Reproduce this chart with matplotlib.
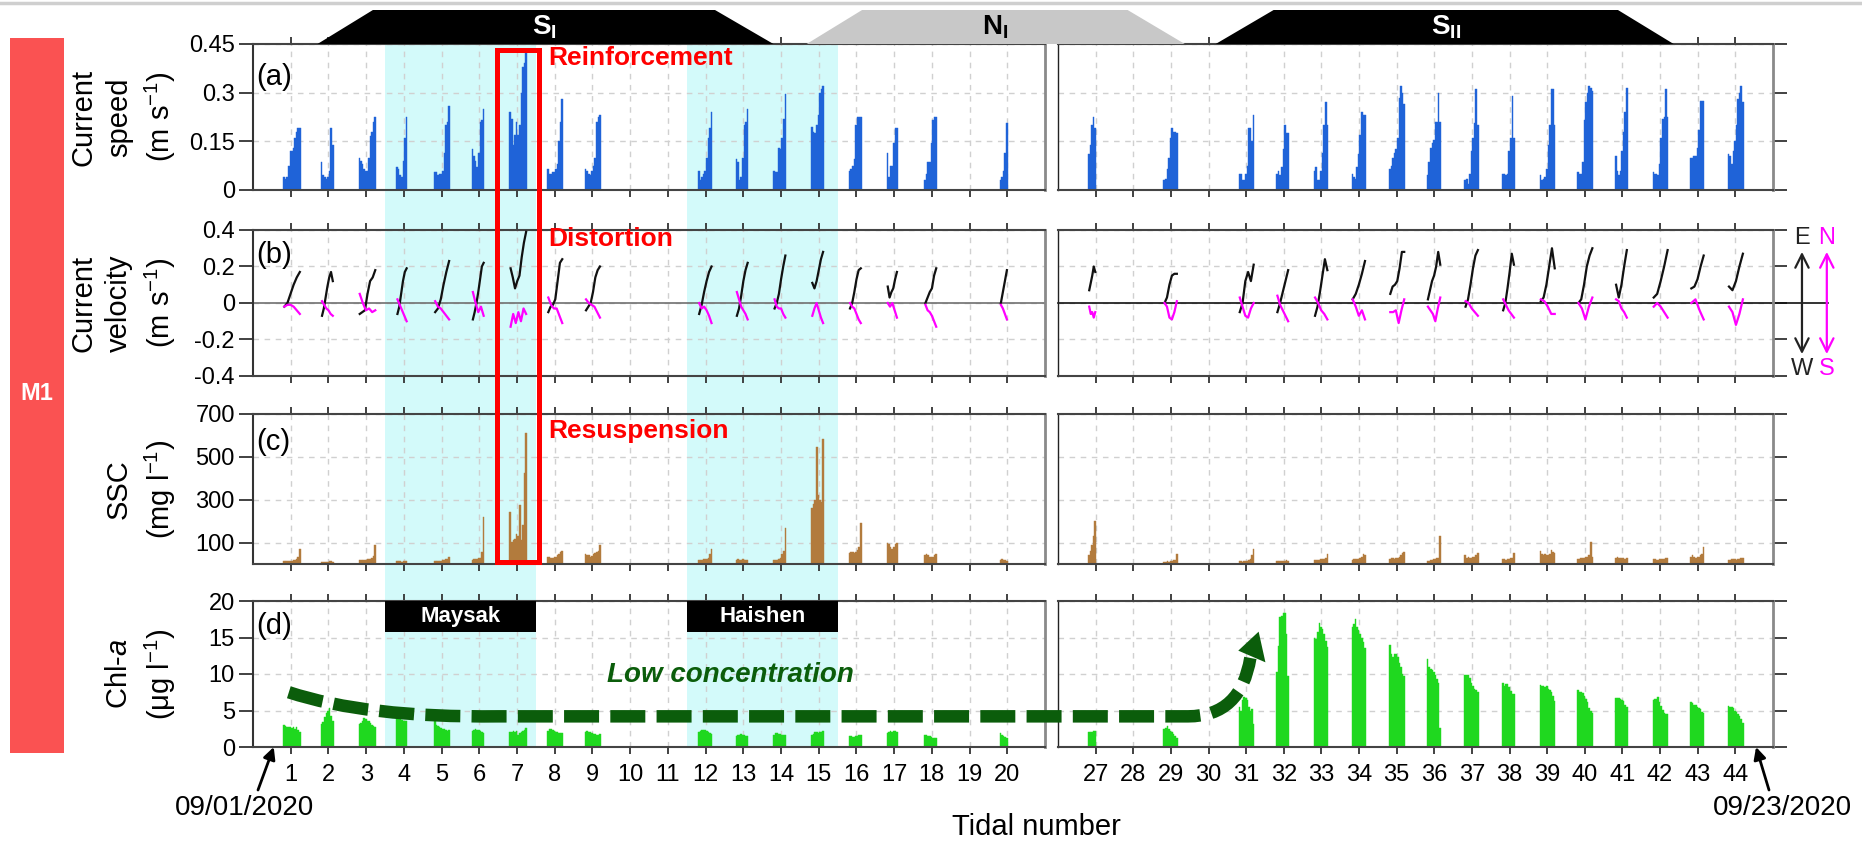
import numpy as np
import matplotlib.pyplot as plt
from matplotlib.patches import Rectangle, Polygon, PathPatch
from matplotlib.path import Path
from matplotlib.lines import Line2D
from matplotlib.transforms import blended_transform_factory

plt.rcParams['font.family'] = ['Liberation Sans', 'DejaVu Sans']
plt.rcParams['mathtext.fontset'] = 'custom'
plt.rcParams['mathtext.rm'] = 'Liberation Sans'
plt.rcParams['mathtext.it'] = 'Liberation Sans:italic'
plt.rcParams['mathtext.bf'] = 'Liberation Sans:bold'

# tidal cycles with records, left and right block
left_tides = [1, 2, 3, 4, 5, 6, 7, 8, 9, 12, 13, 14, 15, 16, 17, 18, 20]
right_tides = [27, 29, 31, 32, 33, 34, 35, 36, 37, 38, 39, 40, 41, 42, 43, 44]

# current speed (m/s), one bar per record
speed = {
    1: [0.04, 0.035, 0.04, 0.075, 0.12, 0.12, 0.13, 0.16, 0.18, 0.19, 0.19],
    2: [0.085, 0.045, 0.04, 0.035, 0.04, 0.06, 0.19, 0.14],
    3: [0.1, 0.09, 0.08, 0.065, 0.06, 0.06, 0.1, 0.165, 0.18, 0.21, 0.225],
    4: [0.07, 0.065, 0.045, 0.04, 0.09, 0.16, 0.225],
    5: [0.055, 0.055, 0.045, 0.05, 0.05, 0.06, 0.115, 0.2, 0.21, 0.26],
    6: [0.125, 0.105, 0.09, 0.07, 0.115, 0.21, 0.215, 0.25],
    7: [0.24, 0.22, 0.14, 0.17, 0.21, 0.17, 0.2, 0.3, 0.38, 0.39, 0.43],
    8: [0.065, 0.05, 0.05, 0.055, 0.055, 0.065, 0.08, 0.15, 0.21, 0.28],
    9: [0.065, 0.06, 0.05, 0.045, 0.06, 0.075, 0.1, 0.21, 0.225, 0.23],
    12: [0.06, 0.03, 0.04, 0.05, 0.06, 0.1, 0.16, 0.19, 0.24],
    13: [0.095, 0.085, 0.03, 0.04, 0.1, 0.2, 0.21, 0.25],
    14: [0.06, 0.055, 0.055, 0.13, 0.125, 0.16, 0.22, 0.295],
    15: [0.195, 0.18, 0.175, 0.2, 0.23, 0.3, 0.31, 0.32],
    16: [0.06, 0.065, 0.075, 0.095, 0.2, 0.225, 0.225, 0.225],
    17: [0.115, 0.04, 0.075, 0.075, 0.145, 0.19, 0.19],
    18: [0.03, 0.05, 0.085, 0.085, 0.145, 0.215, 0.225, 0.225],
    20: [0.03, 0.04, 0.06, 0.115, 0.205],
    27: [0.11, 0.14, 0.2, 0.225, 0.19],
    29: [0.03, 0.035, 0.065, 0.1, 0.16, 0.19, 0.18, 0.18, 0.175],
    31: [0.05, 0.05, 0.03, 0.03, 0.05, 0.075, 0.19, 0.19, 0.15, 0.23],
    32: [0.05, 0.06, 0.045, 0.07, 0.125, 0.2, 0.175, 0.175],
    33: [0.06, 0.07, 0.03, 0.03, 0.06, 0.115, 0.2, 0.27, 0.2],
    34: [0.05, 0.04, 0.035, 0.07, 0.11, 0.17, 0.24, 0.23, 0.23],
    35: [0.065, 0.075, 0.1, 0.115, 0.125, 0.16, 0.285, 0.32, 0.3, 0.265],
    36: [0.045, 0.085, 0.13, 0.145, 0.155, 0.21, 0.21, 0.3, 0.21],
    37: [0.03, 0.035, 0.02, 0.05, 0.12, 0.16, 0.205, 0.31, 0.2],
    38: [0.05, 0.05, 0.045, 0.05, 0.12, 0.16, 0.29, 0.16],
    39: [0.045, 0.03, 0.035, 0.04, 0.065, 0.14, 0.2, 0.31, 0.31, 0.2],
    40: [0.055, 0.05, 0.05, 0.085, 0.215, 0.27, 0.3, 0.32, 0.315, 0.305],
    41: [0.105, 0.06, 0.045, 0.06, 0.12, 0.18, 0.24, 0.315],
    42: [0.055, 0.05, 0.05, 0.045, 0.08, 0.16, 0.22, 0.225, 0.31, 0.225],
    43: [0.1, 0.1, 0.105, 0.105, 0.13, 0.185, 0.275, 0.275, 0.275],
    44: [0.11, 0.105, 0.08, 0.12, 0.15, 0.2, 0.28, 0.3, 0.32, 0.27],
}

# east (u) and north (v) velocity components (m/s)
vel_u = {
    1: [-0.02, 0.0, 0.05, 0.10, 0.14, 0.17],
    2: [-0.07, -0.03, 0.03, 0.09, 0.14, 0.17, 0.12],
    3: [-0.06, -0.05, -0.04, 0.05, 0.12, 0.14, 0.18],
    4: [-0.06, -0.02, 0.05, 0.12, 0.17, 0.19],
    5: [-0.05, -0.03, 0.02, 0.10, 0.17, 0.23],
    6: [-0.09, -0.05, 0.0, 0.06, 0.13, 0.20, 0.22],
    7: [0.19, 0.14, 0.08, 0.12, 0.15, 0.25, 0.33, 0.39],
    8: [-0.05, -0.02, -0.01, 0.02, 0.12, 0.22, 0.24],
    9: [-0.04, -0.02, 0.0, 0.06, 0.14, 0.18, 0.20],
    12: [-0.06, -0.01, 0.06, 0.12, 0.17, 0.20],
    13: [-0.07, -0.03, 0.04, 0.12, 0.18, 0.22],
    14: [-0.03, 0.0, 0.05, 0.13, 0.20, 0.26],
    15: [0.11, 0.08, 0.12, 0.18, 0.24, 0.28],
    16: [-0.03, 0.0, 0.06, 0.13, 0.18, 0.19],
    17: [0.09, 0.03, 0.06, 0.08, 0.13, 0.17],
    18: [0.0, 0.03, 0.06, 0.08, 0.15, 0.19],
    20: [0.0, 0.06, 0.12, 0.18],
    27: [0.07, 0.11, 0.15, 0.20, 0.17],
    29: [0.0, 0.03, 0.10, 0.15, 0.16, 0.16],
    31: [-0.05, 0.0, 0.12, 0.17, 0.12, 0.21],
    32: [-0.05, 0.0, 0.06, 0.12, 0.18],
    33: [-0.07, -0.02, 0.06, 0.15, 0.24, 0.18],
    34: [0.02, 0.05, 0.10, 0.16, 0.23],
    35: [0.05, 0.09, 0.10, 0.12, 0.19, 0.28, 0.28],
    36: [0.02, 0.07, 0.12, 0.15, 0.20, 0.28, 0.21],
    37: [-0.02, 0.02, 0.10, 0.19, 0.26, 0.29],
    38: [-0.04, 0.0, 0.08, 0.17, 0.27, 0.21],
    39: [0.01, 0.03, 0.10, 0.20, 0.30, 0.19],
    40: [0.0, 0.02, 0.10, 0.20, 0.26, 0.30],
    41: [0.10, 0.03, 0.10, 0.20, 0.29],
    42: [0.03, 0.05, 0.12, 0.20, 0.29],
    43: [0.08, 0.09, 0.13, 0.20, 0.26],
    44: [0.09, 0.07, 0.12, 0.20, 0.27],
}
vel_v = {
    1: [-0.02, -0.01, -0.01, -0.02, -0.04, -0.06],
    2: [0.01, -0.01, -0.03, -0.04, -0.06, -0.07],
    3: [0.05, 0.0, -0.04, -0.03, -0.05, -0.04],
    4: [0.02, -0.01, -0.04, -0.07, -0.10],
    5: [0.01, -0.02, -0.03, -0.05, -0.07, -0.09],
    6: [0.06, 0.0, -0.05, -0.02, -0.07],
    7: [-0.13, -0.06, -0.11, -0.05, -0.10, -0.03, -0.06],
    8: [0.03, -0.01, -0.03, -0.03, -0.07, -0.11],
    9: [0.02, 0.0, -0.01, -0.02, -0.05, -0.08],
    12: [0.0, -0.03, -0.02, -0.04, -0.07, -0.11],
    13: [0.06, 0.02, -0.02, -0.04, -0.06, -0.09],
    14: [0.02, -0.02, -0.03, -0.03, -0.06, -0.08],
    15: [-0.07, -0.03, 0.0, -0.04, -0.08, -0.11],
    16: [0.0, -0.02, -0.03, -0.06, -0.09, -0.11],
    17: [0.0, -0.02, 0.0, -0.04, -0.08],
    18: [-0.01, -0.04, -0.05, -0.07, -0.10, -0.13],
    20: [-0.01, -0.03, -0.06, -0.09],
    27: [-0.02, -0.06, -0.05, -0.08, -0.05],
    29: [0.0, -0.02, -0.08, -0.09, -0.05, 0.01],
    31: [0.03, -0.02, -0.07, -0.08, -0.03, 0.0],
    32: [0.04, -0.01, -0.04, -0.07, -0.10],
    33: [0.03, 0.0, -0.04, -0.06, -0.09],
    34: [0.02, -0.02, -0.07, -0.04, -0.09],
    35: [-0.05, -0.05, -0.04, -0.11, -0.04, 0.02],
    36: [-0.02, -0.04, -0.06, -0.10, -0.03, 0.03],
    37: [0.01, 0.0, -0.03, -0.05, -0.07],
    38: [0.02, -0.01, -0.04, -0.06, -0.08],
    39: [0.02, 0.01, -0.02, -0.06, -0.06],
    40: [0.0, -0.03, -0.09, -0.02, 0.03],
    41: [0.02, 0.01, -0.03, -0.05, -0.08],
    42: [-0.02, 0.0, -0.02, -0.05, -0.08],
    43: [0.0, 0.02, -0.04, -0.09],
    44: [-0.02, -0.05, -0.12, -0.06, 0.02],
}

# suspended sediment concentration (mg/l)
ssc = {
    1: [15, 16, 14, 15, 14, 16, 18, 20, 25, 35, 72],
    2: [10, 10, 10, 9, 10, 12, 12, 11],
    3: [18, 18, 17, 20, 20, 22, 25, 25, 30, 38, 90],
    4: [12, 12, 12, 10, 12, 15, 14],
    5: [15, 15, 16, 14, 16, 18, 20, 22, 25, 35],
    6: [20, 22, 22, 22, 28, 30, 55, 220],
    7: [245, 105, 110, 115, 140, 130, 275, 110, 180, 425, 610],
    8: [35, 35, 30, 30, 32, 35, 40, 45, 55, 60],
    9: [45, 42, 40, 35, 38, 45, 50, 55, 60, 88],
    12: [20, 20, 20, 22, 22, 25, 30, 45, 70],
    13: [20, 22, 20, 18, 22, 20, 18, 18],
    14: [20, 20, 20, 25, 30, 45, 60, 170],
    15: [260, 280, 300, 545, 320, 300, 290, 585],
    16: [50, 55, 55, 50, 55, 65, 80, 190],
    17: [100, 95, 80, 70, 80, 95, 100],
    18: [40, 45, 40, 35, 35, 35, 40, 45],
    20: [20, 25, 20, 18, 15],
    27: [40, 60, 90, 130, 200],
    29: [10, 10, 12, 10, 12, 15, 18, 20, 45],
    31: [12, 12, 10, 12, 12, 15, 18, 25, 40, 70],
    32: [15, 15, 12, 14, 14, 15, 18, 15],
    33: [18, 20, 20, 20, 22, 22, 25, 30, 45],
    34: [20, 22, 22, 22, 25, 30, 35, 45, 40],
    35: [25, 30, 28, 25, 28, 30, 35, 40, 50, 55],
    36: [15, 15, 20, 20, 22, 25, 28, 30, 130],
    37: [40, 30, 35, 30, 30, 32, 35, 40, 50],
    38: [25, 25, 20, 25, 25, 28, 30, 50],
    39: [60, 45, 40, 45, 40, 42, 45, 65, 55, 50],
    40: [25, 25, 30, 28, 30, 32, 35, 40, 105, 35],
    41: [30, 35, 30, 28, 30, 28, 25, 30],
    42: [25, 22, 20, 20, 22, 22, 25, 25, 30, 30],
    43: [35, 40, 35, 30, 32, 35, 40, 45, 80],
    44: [20, 20, 25, 25, 22, 20, 22, 25, 30, 30],
}

# chlorophyll-a (ug/l)
chl = {
    1: [3.0, 2.9, 2.8, 2.8, 2.7, 2.6, 2.7, 2.5, 2.7, 2.3, 2.0],
    2: [3.2, 3.4, 4.1, 4.6, 4.9, 5.3, 4.3, 3.5],
    3: [3.1, 3.3, 3.6, 4.0, 3.8, 3.6, 3.5, 3.3, 3.0, 2.9, 2.8],
    4: [4.0, 3.9, 3.8, 3.7, 3.6, 3.5, 3.5],
    5: [3.5, 3.0, 2.9, 2.7, 2.6, 2.5, 2.4, 2.3, 2.2, 2.3],
    6: [2.2, 2.3, 2.4, 2.3, 2.3, 2.2, 2.0, 1.9],
    7: [2.1, 2.1, 2.2, 2.0, 2.2, 1.7, 1.9, 2.0, 2.2, 2.3, 2.6],
    8: [2.2, 2.5, 2.4, 2.3, 2.2, 2.1, 2.0, 1.9, 1.9, 1.9],
    9: [2.0, 2.2, 2.1, 2.0, 1.9, 1.8, 1.8, 1.7, 1.7, 1.8],
    12: [2.0, 2.2, 2.3, 2.3, 2.3, 2.2, 2.0, 1.9, 1.8],
    13: [1.5, 1.6, 1.7, 1.8, 1.7, 1.6, 1.5, 1.5],
    14: [1.7, 1.9, 1.9, 1.8, 1.8, 1.7, 1.6, 1.6],
    15: [1.6, 1.8, 2.1, 2.0, 1.9, 2.1, 2.1, 2.2],
    16: [1.5, 1.5, 1.4, 1.4, 1.5, 1.5, 1.6, 1.6],
    17: [1.9, 2.1, 2.2, 2.1, 2.2, 2.2, 2.0],
    18: [1.6, 1.6, 1.5, 1.5, 1.4, 1.3, 1.3, 1.2],
    20: [1.9, 1.6, 1.5, 1.4, 1.3],
    27: [2.0, 2.0, 2.1, 2.2, 2.2],
    29: [2.4, 2.6, 2.9, 2.5, 2.2, 2.0, 1.8, 1.5, 1.3],
    31: [5.5, 5.0, 6.5, 6.8, 6.7, 6.5, 5.5, 5.0, 5.2, 3.2],
    32: [10.3, 13.9, 17.8, 18.0, 18.3, 18.4, 15.5, 9.7],
    33: [15.0, 14.8, 15.8, 17.0, 16.5, 16.1, 15.5, 14.5, 13.7],
    34: [16.5, 16.8, 17.5, 16.5, 16.0, 15.5, 15.0, 14.4, 13.6],
    35: [14.0, 12.8, 12.3, 12.7, 12.7, 12.3, 11.5, 11.0, 10.0, 9.7],
    36: [12.1, 10.9, 10.7, 10.5, 10.3, 9.9, 9.3, 8.7, 2.6],
    37: [9.8, 9.9, 9.8, 9.5, 8.8, 8.3, 8.0, 7.8, 7.6],
    38: [8.7, 8.4, 8.6, 8.6, 8.2, 7.7, 7.2, 7.2],
    39: [8.5, 8.4, 8.3, 8.2, 8.3, 8.0, 7.8, 7.6, 7.0, 6.3],
    40: [7.8, 7.6, 7.5, 7.4, 7.0, 6.6, 6.2, 5.4, 5.0, 4.6],
    41: [6.7, 6.7, 6.7, 6.6, 6.5, 6.3, 5.8, 5.5],
    42: [6.5, 6.6, 6.6, 6.8, 6.2, 5.6, 5.1, 4.6, 4.5, 4.5],
    43: [6.2, 6.0, 5.8, 5.7, 5.5, 5.4, 5.2, 4.8, 4.7],
    44: [5.6, 5.5, 5.5, 5.4, 5.0, 4.8, 4.5, 4.2, 3.8, 3.3],
}

# typhoon periods (tidal number spans)
typhoons = [('Maysak', 3.5, 7.5), ('Haishen', 11.5, 15.5)]

# ---- layout (pixels) ----
W, H = 1862, 842
rows_px = [(44, 190), (230, 376), (414, 564), (601, 747)]
cols_px = [(253, 1045), (1058, 1773)]
xlims = [(0, 21), (26, 45)]
xticks = [list(range(1, 21)), list(range(27, 45))]

ylims = [(0, 0.45), (-0.4, 0.4), (0, 700), (0, 20)]
yticks = [[0, 0.15, 0.3, 0.45], [-0.4, -0.2, 0, 0.2, 0.4],
          [100, 300, 500, 700], [0, 5, 10, 15, 20]]
yticklabels = [['0', '0.15', '0.3', '0.45'], ['-0.4', '-0.2', '0', '0.2', '0.4'],
               ['100', '300', '500', '700'], ['0', '5', '10', '15', '20']]
ylabels = ['Current\nspeed\n(m s$^{-1}$)', 'Current\nvelocity\n(m s$^{-1}$)',
           'SSC\n(mg l$^{-1}$)', 'Chl-$\\mathit{a}$\n(μg l$^{-1}$)']

BLUE = '#1f63d8'
BROWN = '#b27b3d'
GREEN = '#1fd81f'
DKGREEN = '#0b5d0b'
CYAN = '#d3fafa'
BAR_W = 0.042


def fx(px):
    return px / W


def fy(py):
    return 1 - py / H


fig = plt.figure(figsize=(W / 100, H / 100), dpi=100)
axes = [[None, None] for _ in range(4)]

for r, (top, bot) in enumerate(rows_px):
    for c, (lft, rgt) in enumerate(cols_px):
        ax = fig.add_axes([fx(lft), fy(bot), (rgt - lft) / W, (bot - top) / H])
        ax.set_facecolor('none')
        ax.set_xlim(xlims[c])
        ax.set_ylim(ylims[r])
        ax.set_xticks(xticks[c])
        ax.set_yticks(yticks[r])
        ax.grid(True, linestyle=(0, (4, 4)), color='#d0d0d0', linewidth=1)
        ax.set_axisbelow(True)
        ax.tick_params(axis='x', direction='out', length=5, width=1.3,
                       color='#333333', top=True, bottom=True,
                       labelbottom=(r == 3), labelsize=17, pad=7)
        for s in ['top', 'bottom']:
            ax.spines[s].set_color('#444444')
            ax.spines[s].set_linewidth(1.5)
        if c == 0:
            ax.tick_params(axis='y', direction='out', length=10, width=1.3,
                           color='#333333', left=True, right=False,
                           labelsize=17, pad=3)
            ax.set_yticklabels(yticklabels[r])
            ax.spines['left'].set_color('#333333')
            ax.spines['left'].set_linewidth(1.5)
            ax.spines['right'].set_color('#8a8a8a')
            ax.spines['right'].set_linewidth(2)
            ax.set_ylabel(ylabels[r], fontsize=21, linespacing=1.35)
            ax.yaxis.set_label_coords(-0.095, 0.5)
        else:
            ax.tick_params(axis='y', direction='out', length=10, width=1.3,
                           color='#333333', left=False, right=True,
                           labelleft=False)
            ax.spines['left'].set_color('#222222')
            ax.spines['left'].set_linewidth(1)
            ax.spines['right'].set_color('#8a8a8a')
            ax.spines['right'].set_linewidth(2)
        axes[r][c] = ax


def draw_bars(ax, tides, data, color):
    for t in tides:
        vals = data[t]
        x = t - 0.2 + BAR_W / 2 + BAR_W * np.arange(len(vals))
        ax.bar(x, vals, width=BAR_W, color=color, edgecolor=color,
               linewidth=0.3)


for c, tides in enumerate([left_tides, right_tides]):
    draw_bars(axes[0][c], tides, speed, BLUE)
    draw_bars(axes[2][c], tides, ssc, BROWN)
    draw_bars(axes[3][c], tides, chl, GREEN)
    axv = axes[1][c]
    for t in tides:
        x_end = t - 0.2 + BAR_W * len(speed[t]) - 0.02
        xu = np.linspace(t - 0.17, x_end, len(vel_u[t]))
        xv = np.linspace(t - 0.17, x_end, len(vel_v[t]))
        axv.plot(xu, vel_u[t], color='#111111', lw=1.6, zorder=3)
        axv.plot(xv, vel_v[t], color='#ff00ff', lw=1.6, zorder=3)

# zero lines of the velocity panels
axes[1][0].axhline(0, color='#707070', lw=1.2, zorder=2)
axes[1][1].plot([26, 46.45], [0, 0], color='#111111', lw=1.2, clip_on=False,
                zorder=2)

# E-W / N-S direction keys
axk = axes[1][1]
for xk, col, hi, lo in [(45.77, '#222222', 'E', 'W'), (46.43, '#ff00ff', 'N', 'S')]:
    axk.annotate('', xy=(xk, 0.28), xytext=(xk, -0.28),
                 arrowprops=dict(arrowstyle='<->', color=col, lw=1.6,
                                 mutation_scale=24, shrinkA=0, shrinkB=0),
                 annotation_clip=False)
    axk.text(xk, 0.355, hi, color=col, fontsize=17, ha='center', va='center',
             clip_on=False)
    axk.text(xk, -0.36, lo, color=col, fontsize=17, ha='center', va='center',
             clip_on=False)

# typhoon shading across all left panels
ax_ref = axes[3][0]
blend = blended_transform_factory(ax_ref.transData, fig.transFigure)
for name, t0, t1 in typhoons:
    fig.add_artist(Rectangle((t0, fy(rows_px[3][1])), t1 - t0,
                             fy(rows_px[0][0]) - fy(rows_px[3][1]),
                             transform=blend, facecolor=CYAN, edgecolor='none',
                             zorder=-5))
    ax_ref.add_patch(Rectangle((t0, 15.8), t1 - t0, 4.2, facecolor='black',
                               edgecolor='none', zorder=4))
    ax_ref.text((t0 + t1) / 2, 17.9, name, color='white', fontsize=16,
                fontweight='bold', ha='center', va='center', zorder=5)

# highlighted tidal cycle 7
fig.add_artist(Rectangle((6.46, fy(562)), 7.58 - 6.46, fy(50) - fy(562),
                         transform=blend, fill=False, edgecolor='#ff0000',
                         linewidth=3.6, zorder=10))
for label, py in [('Reinforcement', 58), ('Distortion', 239), ('Resuspension', 431)]:
    fig.text(fx(548), fy(py), label, color='#ff0000', fontsize=19,
             fontweight='bold', ha='left', va='center')

# panel letters
for letter, py in zip('abcd', [77, 255, 442, 626]):
    fig.text(fx(256), fy(py), '(%s)' % letter, fontsize=21, ha='left',
             va='center')

# tidal phase bands above the top panels
axl, axr = axes[0][0], axes[0][1]


def tfig(ax, t):
    return fig.transFigure.inverted().transform(ax.transData.transform((t, 0)))[0]


y0, y1 = fy(44), fy(10)
phases = [
    (r'$\mathbf{S_{I}}$', (axl, 1.71), (axl, 3.18), (axl, 12.25), (axl, 13.8), 'black', 'white'),
    (r'$\mathbf{N_{I}}$', (axl, 14.68), (axl, 16.15), (axr, 27.85), (axr, 29.37), '#c8c8c8', 'black'),
    (r'$\mathbf{S_{II}}$', (axr, 30.19), (axr, 31.73), (axr, 40.88), (axr, 42.36), 'black', 'white'),
]
for label, bl, tl, tr, br, fc, tc in phases:
    xs = [tfig(*bl), tfig(*tl), tfig(*tr), tfig(*br)]
    fig.add_artist(Polygon([(xs[0], y0), (xs[1], y1), (xs[2], y1), (xs[3], y0)],
                           closed=True, transform=fig.transFigure,
                           facecolor=fc, edgecolor='none', zorder=5))
    fig.text((xs[1] + xs[2]) / 2, fy(27), label, color=tc, fontsize=20,
             ha='center', va='center', zorder=6)

# site bar
fig.add_artist(Rectangle((fx(10), fy(753)), fx(64) - fx(10), fy(38) - fy(753),
                         transform=fig.transFigure, facecolor='#fa5252',
                         edgecolor='none', zorder=1))
fig.text(fx(37), fy(393), 'M1', color='white', fontsize=17, fontweight='bold',
         ha='center', va='center', zorder=2)

# low-concentration trend arrow, drawn in left Chl-a axes coordinates
gap = (cols_px[1][0] - cols_px[0][1]) / ((cols_px[0][1] - cols_px[0][0]) / 21)


def right_to_left(t):
    return 21 + gap + (t - 26)


verts = [(0.95, 7.5), (3.0, 4.0), (6.5, 4.2),
         (right_to_left(29.45), 4.2),
         (right_to_left(30.85), 4.2), (right_to_left(31.1), 12.2)]
codes = [Path.MOVETO, Path.CURVE3, Path.CURVE3, Path.LINETO,
         Path.CURVE3, Path.CURVE3]
axd = axes[3][0]
axd.set_zorder(1)
axd.add_patch(PathPatch(Path(verts, codes), fill=False, edgecolor=DKGREEN,
                        linewidth=9, linestyle=(0, (2.8, 0.9)),
                        capstyle='butt', clip_on=False, zorder=6))
axd.add_patch(Polygon([(right_to_left(30.78), 13.2), (right_to_left(31.32), 15.8),
                       (right_to_left(31.5), 11.6)], closed=True,
                      facecolor=DKGREEN, edgecolor='none', clip_on=False,
                      zorder=6))
axd.text(9.38, 9.8, 'Low concentration', color=DKGREEN, fontsize=20,
         fontweight='bold', fontstyle='italic', ha='left', va='center',
         zorder=6)

# start and end dates
axd.annotate('', xy=(0.55, 0), xycoords='data', xytext=(258, H - 790),
             textcoords='figure pixels',
             arrowprops=dict(arrowstyle='-|>', color='black', lw=2,
                             mutation_scale=18, shrinkA=0, shrinkB=0),
             annotation_clip=False)
fig.text(fx(244), fy(808), '09/01/2020', fontsize=20, ha='center', va='center')
axes[3][1].annotate('', xy=(44.55, 0), xycoords='data', xytext=(1769, H - 790),
                    textcoords='figure pixels',
                    arrowprops=dict(arrowstyle='-|>', color='black', lw=2,
                                    mutation_scale=18, shrinkA=0, shrinkB=0),
                    annotation_clip=False)
fig.text(fx(1782), fy(808), '09/23/2020', fontsize=20, ha='center', va='center')

fig.text(fx(1036), fy(827), 'Tidal number', fontsize=21, ha='center',
         va='center')

# thin rule along the top edge
fig.add_artist(Line2D([0, 1], [fy(3), fy(3)], transform=fig.transFigure,
                      color='#cfcfcf', lw=2.5))

fig.savefig('out.png', dpi=100, facecolor='white')
